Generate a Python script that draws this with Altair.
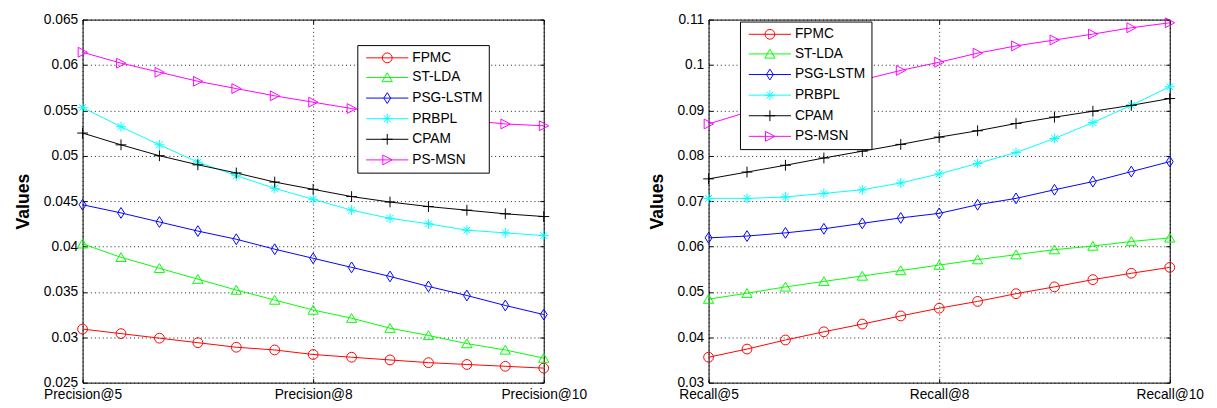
import altair as alt
import pandas as pd

# ---------------- data ----------------
methods = ["FPMC", "ST-LDA", "PSG-LSTM", "PRBPL", "CPAM", "PS-MSN"]
colors = ["#ff0000", "#00ff00", "#0000ff", "#00ffff", "#000000", "#ff00ff"]
marker_kinds = ["circle", "tri_up", "diamond", "asterisk", "plus", "tri_right"]

x_steps = [1, 2, 3, 4, 5, 6, 7, 8, 9, 10, 11, 12, 13]
x_tick_pos = [1, 7, 13]
prec_tick_labels = ["Precision@5", "Precision@8", "Precision@10"]
recall_tick_labels = ["Recall@5", "Recall@8", "Recall@10"]
prec_y_ticks = [0.025, 0.03, 0.035, 0.04, 0.045, 0.05, 0.055, 0.06, 0.065]
recall_y_ticks = [0.03, 0.04, 0.05, 0.06, 0.07, 0.08, 0.09, 0.1, 0.11]

prec_fpmc = [0.0309, 0.0304, 0.0299, 0.0294, 0.0289, 0.0286, 0.0281, 0.0278, 0.0275, 0.0272, 0.0270, 0.0268, 0.0266]
prec_stlda = [0.0403, 0.0388, 0.0376, 0.0364, 0.0352, 0.0341, 0.0330, 0.0321, 0.0310, 0.0302, 0.0293, 0.0286, 0.0277]
prec_psglstm = [0.0446, 0.0437, 0.0427, 0.0417, 0.0408, 0.0397, 0.0387, 0.0377, 0.0367, 0.0356, 0.0346, 0.0335, 0.0325]
prec_prbpl = [0.0553, 0.0532, 0.0512, 0.0493, 0.0478, 0.0464, 0.0452, 0.0440, 0.0431, 0.0425, 0.0418, 0.0415, 0.0412]
prec_cpam = [0.0525, 0.0512, 0.0500, 0.0490, 0.0481, 0.0471, 0.0463, 0.0455, 0.0449, 0.0444, 0.0440, 0.0436, 0.0433]
prec_psmsn = [0.0614, 0.0602, 0.0592, 0.0582, 0.0574, 0.0566, 0.0559, 0.0552, 0.0546, 0.0542, 0.0539, 0.0535, 0.0533]

rec_fpmc = [0.0356, 0.0374, 0.0394, 0.0412, 0.0429, 0.0447, 0.0464, 0.0479, 0.0496, 0.0511, 0.0527, 0.0541, 0.0554]
rec_stlda = [0.0484, 0.0497, 0.0511, 0.0523, 0.0535, 0.0547, 0.0559, 0.0571, 0.0582, 0.0593, 0.0601, 0.0611, 0.0619]
rec_psglstm = [0.0619, 0.0623, 0.0630, 0.0639, 0.0651, 0.0663, 0.0673, 0.0692, 0.0706, 0.0725, 0.0743, 0.0765, 0.0787]
rec_prbpl = [0.0706, 0.0706, 0.0709, 0.0717, 0.0725, 0.0740, 0.0760, 0.0783, 0.0807, 0.0838, 0.0873, 0.0911, 0.0952]
rec_cpam = [0.0749, 0.0764, 0.0779, 0.0795, 0.0810, 0.0825, 0.0841, 0.0855, 0.0871, 0.0885, 0.0898, 0.0911, 0.0926]
rec_psmsn = [0.0870, 0.0896, 0.0921, 0.0945, 0.0967, 0.0988, 0.1006, 0.1026, 0.1042, 0.1055, 0.1068, 0.1082, 0.1093]

precision_series = [prec_fpmc, prec_stlda, prec_psglstm, prec_prbpl, prec_cpam, prec_psmsn]
recall_series = [rec_fpmc, rec_stlda, rec_psglstm, rec_prbpl, rec_cpam, rec_psmsn]

# ---------------- styling helpers ----------------
FONT = "Liberation Sans"
TICK = 4


def marker_path(kind, cx=0.0):
    def p(x, y):
        return f"{x + cx:.3f},{y:.3f}"
    if kind == "circle":
        return f"M{p(1, 0)}A1,1,0,1,1,{p(-1, 0)}A1,1,0,1,1,{p(1, 0)}Z"
    if kind == "tri_up":
        return f"M{p(0, -0.95)}L{p(1.05, 0.85)}L{p(-1.05, 0.85)}Z"
    if kind == "diamond":
        return f"M{p(0, -1.1)}L{p(0.7, 0)}L{p(0, 1.1)}L{p(-0.7, 0)}Z"
    if kind == "asterisk":
        return (f"M{p(0, -1)}L{p(0, 1)}M{p(-1, 0)}L{p(1, 0)}"
                f"M{p(-0.7, -0.7)}L{p(0.7, 0.7)}M{p(-0.7, 0.7)}L{p(0.7, -0.7)}")
    if kind == "plus":
        return f"M{p(0, -1.1)}L{p(0, 1.1)}M{p(-1.1, 0)}L{p(1.1, 0)}"
    if kind == "tri_right":
        return f"M{p(1.0, 0)}L{p(-0.9, -1.0)}L{p(-0.9, 1.0)}Z"
    return "circle"


LEG_LINE_START, LEG_LINE_END, LEG_MARK_X = -0.8, 7.8, 3.5


def legend_path(kind):
    return f"M{LEG_LINE_START},0L{LEG_LINE_END},0" + marker_path(kind, LEG_MARK_X)


def shape_expr():
    parts = [f"datum.value === '{m}' ? '{legend_path(k)}'" for m, k in zip(methods, marker_kinds)]
    return " : ".join(parts) + " : 'circle'"


def label_expr(labels):
    parts = [f"datum.value == {t} ? '{l}'" for t, l in zip(x_tick_pos[:-1], labels[:-1])]
    return " : ".join(parts) + f" : '{labels[-1]}'"


def long_df(series):
    rows = []
    for m, c, k, vals in zip(methods, colors, marker_kinds, series):
        for x, v in zip(x_steps, vals):
            rows.append({"step": x, "value": v, "method": m, "hex": c, "path": marker_path(k)})
    return pd.DataFrame(rows)


def inner_tick_axis(values, orient):
    return alt.Axis(values=values, orient=orient, offset=-TICK, ticks=True, tickSize=TICK,
                    tickColor="#000", tickWidth=1, labels=False, domain=False, grid=False,
                    title=None)


def panel(series, tick_labels, y_ticks, leg_x, leg_y):
    df = long_df(series)
    xscale = alt.Scale(domain=[x_steps[0], x_steps[-1]], nice=False, zero=False)
    yscale = alt.Scale(domain=[y_ticks[0], y_ticks[-1]], nice=False, zero=False)
    x = alt.X(
        "step:Q", scale=xscale,
        axis=alt.Axis(values=x_tick_pos, labelExpr=label_expr(tick_labels), title=None,
                      orient="bottom",
                      grid=True, gridDash=[1, 3], gridColor="#000", gridOpacity=0.9,
                      ticks=False, domain=False, labelFlush=False, labelOverlap=False,
                      labelPadding=5, labelFont=FONT, labelFontSize=14, labelColor="#000"),
    )
    y = alt.Y(
        "value:Q", scale=yscale,
        axis=alt.Axis(values=y_ticks, format="~g", title="Values", orient="left",
                      titleFont=FONT, titleFontSize=18, titleFontWeight="bold", titleColor="#000",
                      titlePadding=11,
                      grid=True, gridDash=[1, 3], gridColor="#000", gridOpacity=0.9,
                      ticks=False, domain=False, labelPadding=5, labelOverlap=False,
                      labelFont=FONT, labelFontSize=14, labelColor="#000"),
    )
    color_scale = alt.Scale(domain=methods, range=colors)
    legend = alt.Legend(
        orient="none", legendX=leg_x, legendY=leg_y, title=None,
        labelFont=FONT, labelFontSize=14, labelColor="#000",
        symbolType=alt.ExprRef(expr=shape_expr()),
        symbolSize=100, symbolStrokeWidth=1, symbolOffset=0, labelOffset=36,
        symbolFillColor="transparent",
        padding=6, rowPadding=6, strokeColor="#000", fillColor="#fff", cornerRadius=0,
    )
    lines = alt.Chart(df).mark_line(strokeWidth=1).encode(
        x=x, y=y, color=alt.Color("method:N", scale=color_scale, legend=legend)
    )
    base_pts = alt.Chart(df).mark_point(filled=False, size=100, strokeWidth=1, opacity=1)
    pts_a = base_pts.transform_filter(
        alt.FieldOneOfPredicate(field="method", oneOf=methods[:3])
    ).encode(
        x=alt.X("step:Q", scale=xscale, axis=inner_tick_axis(x_tick_pos, "bottom")),
        y=alt.Y("value:Q", scale=yscale, axis=inner_tick_axis(y_ticks, "left")),
        color=alt.Color("hex:N", scale=None),
        shape=alt.Shape("path:N", scale=None),
    )
    pts_b = base_pts.transform_filter(
        alt.FieldOneOfPredicate(field="method", oneOf=methods[3:])
    ).encode(
        x=alt.X("step:Q", scale=xscale, axis=inner_tick_axis(x_tick_pos, "top")),
        y=alt.Y("value:Q", scale=yscale, axis=inner_tick_axis(y_ticks, "right")),
        color=alt.Color("hex:N", scale=None),
        shape=alt.Shape("path:N", scale=None),
    )
    return alt.layer(lines, pts_a, pts_b).resolve_axis(
        x="independent", y="independent"
    ).properties(width=470, height=370)


left = panel(precision_series, prec_tick_labels, prec_y_ticks, 280, 26)
right = panel(recall_series, recall_tick_labels, recall_y_ticks, 32, 2)

chart = alt.hconcat(left, right, spacing=168, bounds="flush").resolve_scale(
    color="independent"
).resolve_legend(color="independent").properties(
    padding={"left": 6, "top": 0, "right": 5, "bottom": 0},
    background="#ffffff",
).configure_view(stroke="#000", strokeWidth=1)

chart.save("out.html", embed_options={"renderer": "svg", "actions": False})
